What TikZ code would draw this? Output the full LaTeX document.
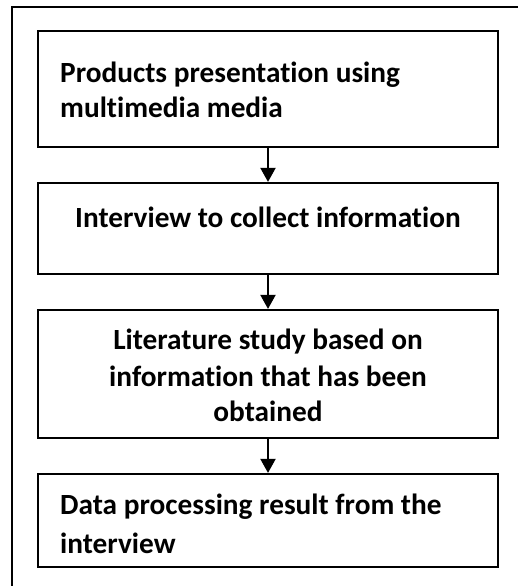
\documentclass[tikz,border=0pt]{standalone}
\usepackage{fontspec}
\setmainfont[Ligatures=NoCommon]{Carlito}
\usetikzlibrary{arrows.meta}
\begin{document}
\begin{tikzpicture}[x=1pt,y=-1pt,
  box/.style={draw,line width=2.2pt,minimum width=460pt,inner sep=0pt},
  txt/.style={font=\fontsize{29.3}{35}\selectfont\bfseries,inner sep=0pt},
  arr/.style={line width=2pt,-{Triangle[width=15pt,length=14pt]}},
  frame/.style={line width=2.4pt}]
\useasboundingbox (0,0) rectangle (518,586);
\coordinate (fb) at (12,586);
\coordinate (fc) at (12,7);
\coordinate (fr) at (518,7);
\draw[frame] (fb) -- (fc) -- (fr);
\node[box,minimum height=116pt] (b1) at (268,89) {};
\node[box,minimum height=91pt] (b2) at (268,228.5) {};
\node[box,minimum height=128pt] (b3) at (268,374) {};
\node[box,minimum height=93pt] (b4) at (268,520.5) {};
\draw[arr] (b1.south) -- (b2.north);
\draw[arr] (b2.south) -- (b3.north);
\draw[arr] (b3.south) -- (b4.north);
\node[txt,anchor=base west] (t1a) at (60,82) {Products presentation using};
\node[txt,anchor=base west] (t1b) at (60,117) {multimedia media};
\node[txt,anchor=base] (t2) at (268,227) {Interview to collect information};
\node[txt,anchor=base] (t3a) at (268,349) {Literature study based on};
\node[txt,anchor=base] (t3b) at (268,386) {information that has been};
\node[txt,anchor=base] (t3c) at (268,421) {obtained};
\node[txt,anchor=base west] (t4a) at (60,514) {Data processing result from the};
\node[txt,anchor=base west] (t4b) at (60,553) {interview};
\end{tikzpicture}
\end{document}
